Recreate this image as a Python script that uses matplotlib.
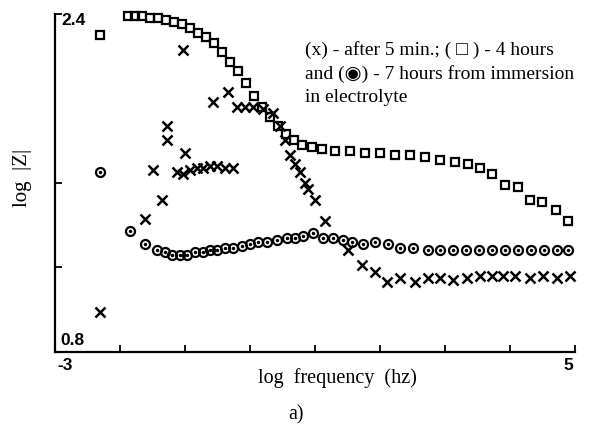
import numpy as np
import matplotlib.pyplot as plt

# (x) after 5 min
x5min = [-2.31, -1.03, -1.62, -1.35, -1.49, -1.28, -1.28, -1.00, -1.12, -1.03, -0.92, -0.82,
         -0.72, -0.62, -0.51, -0.38, -0.26,
         -0.57, -0.34, -0.20, -0.08, 0.05, 0.20, 0.35, 0.46, 0.54, 0.62, 0.69, 0.77, 0.85,
         0.89, 1.00, 1.15, 1.51, 1.72, 1.92,
         2.11, 2.31, 2.54, 2.74, 2.92, 3.12, 3.34, 3.54, 3.72, 3.89, 4.08, 4.31, 4.51, 4.72, 4.92]
y5min = [0.99, 2.23, 1.43, 1.52, 1.66, 1.87, 1.80, 1.74, 1.65, 1.64, 1.66, 1.67,
         1.67, 1.68, 1.68, 1.67, 1.67,
         1.98, 2.03, 1.96, 1.96, 1.96, 1.95, 1.93, 1.87, 1.80, 1.73, 1.69, 1.65, 1.60,
         1.57, 1.52, 1.42, 1.28, 1.21, 1.18,
         1.13, 1.15, 1.13, 1.15, 1.15, 1.14, 1.15, 1.16, 1.16, 1.16, 1.16, 1.15, 1.16, 1.15, 1.16]

# (square) 4 hours
x4h = [-2.31, -1.88, -1.77, -1.66, -1.54, -1.42, -1.29, -1.17, -1.05, -0.92, -0.80, -0.68,
       -0.55, -0.43, -0.31, -0.18, -0.06, 0.06, 0.18, 0.31, 0.43, 0.55, 0.68, 0.80, 0.95,
       1.11, 1.31, 1.54, 1.77, 2.00, 2.23, 2.46, 2.69, 2.92, 3.15, 3.35, 3.54, 3.72, 3.92,
       4.12, 4.31, 4.49, 4.71, 4.89]
y4h = [2.30, 2.39, 2.39, 2.39, 2.38, 2.38, 2.37, 2.36, 2.35, 2.33, 2.31, 2.29,
       2.26, 2.22, 2.17, 2.13, 2.07, 2.01, 1.96, 1.91, 1.87, 1.83, 1.80, 1.78, 1.77,
       1.76, 1.75, 1.75, 1.74, 1.74, 1.73, 1.73, 1.72, 1.71, 1.70, 1.69, 1.67, 1.64, 1.59,
       1.58, 1.52, 1.51, 1.47, 1.42]

# (dotted circle) 7 hours
x7h = [-2.31, -1.85, -1.62, -1.43, -1.31, -1.20, -1.08, -0.97, -0.85, -0.72, -0.62, -0.51,
       -0.38, -0.26, -0.12, 0.00, 0.12, 0.26, 0.42, 0.57, 0.69, 0.82, 0.97, 1.12, 1.28,
       1.43, 1.57, 1.74, 1.92, 2.12, 2.31, 2.51, 2.74, 2.92, 3.12, 3.32, 3.52, 3.72, 3.92,
       4.12, 4.32, 4.52, 4.72, 4.90]
y7h = [1.65, 1.37, 1.31, 1.28, 1.27, 1.26, 1.26, 1.26, 1.27, 1.27, 1.28, 1.28,
       1.29, 1.29, 1.30, 1.31, 1.32, 1.32, 1.33, 1.34, 1.34, 1.35, 1.36, 1.34, 1.34,
       1.33, 1.32, 1.31, 1.32, 1.31, 1.29, 1.29, 1.28, 1.28, 1.28, 1.28, 1.28, 1.28, 1.28,
       1.28, 1.28, 1.28, 1.28, 1.28]

xticks = [-3, -2, -1, 0, 1, 2, 3, 4, 5]
yticks = [0.8, 1.2, 1.6, 2.4]

serif = ['Liberation Serif', 'DejaVu Sans']
sans = 'Liberation Sans'

fig = plt.figure(figsize=(5.97, 4.28), dpi=100)
ax = fig.add_axes([0.092, 0.178, 0.871, 0.790])

ax.plot(x5min, y5min, 'x', color='black', ms=7, mew=1.8, clip_on=False)
ax.plot(x4h, y4h, 's', mfc='none', mec='black', ms=6, mew=1.6, clip_on=False)
ax.plot(x7h, y7h, 'o', mfc='none', mec='black', ms=6.5, mew=1.6, clip_on=False)
ax.plot(x7h, y7h, '.', color='black', ms=3, clip_on=False)

ax.set_xlim(-3, 5)
ax.set_ylim(0.8, 2.4)
for s in ['top', 'right']:
    ax.spines[s].set_visible(False)
for s in ['left', 'bottom']:
    ax.spines[s].set_linewidth(1.6)
ax.set_xticks(xticks)
ax.set_yticks(yticks)
ax.set_xticklabels([])
ax.set_yticklabels([])
ax.tick_params(direction='in', length=5, width=1.3)

ax.text(-2.9, 2.405, '2.4', fontfamily=sans, fontweight='bold', fontsize=12.5, va='top', ha='left')
ax.text(-2.92, 0.82, '0.8', fontfamily=sans, fontweight='bold', fontsize=12.5, va='bottom', ha='left')
ax.text(-2.85, 0.77, '-3', fontfamily=sans, fontweight='bold', fontsize=12.5, va='top', ha='center')
ax.text(4.9, 0.77, '5', fontfamily=sans, fontweight='bold', fontsize=12.5, va='top', ha='center')

fig.text(0.5645, 0.117, 'log  frequency  (hz)', fontfamily=serif, fontsize=14.5, ha='center', va='center')
fig.text(0.037, 0.584, 'log  |Z|', fontfamily=serif, fontsize=15, rotation=90, ha='center', va='center')
fig.text(0.496, 0.030, 'a)', fontfamily=serif, fontsize=14.5, ha='center', va='center')

ax.text(0.85, 2.27,
        '(x) - after 5 min.; ( \u25a1 ) - 4 hours\nand (\u25c9) - 7 hours from immersion\nin electrolyte',
        fontfamily=serif, fontsize=14, va='top', ha='left', linespacing=1.45)

fig.savefig('out.png', dpi=100)
